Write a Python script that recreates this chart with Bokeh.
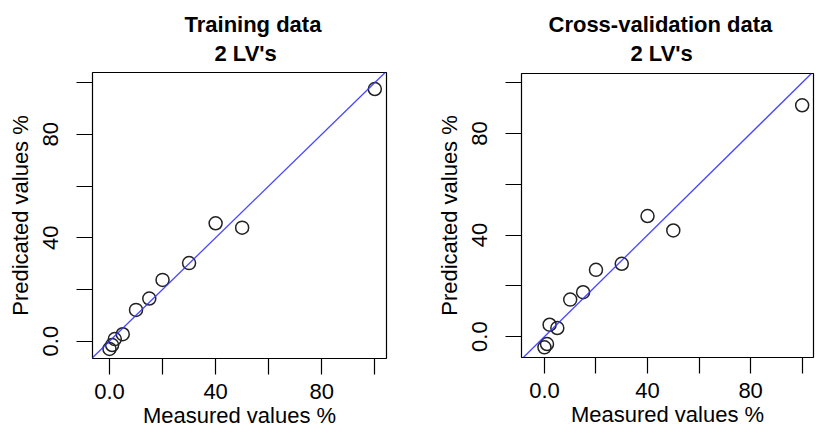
from bokeh.plotting import figure
from bokeh.layouts import row, column
from bokeh.models import Range1d, FixedTicker, Slope
from bokeh.core.properties import value
from bokeh.embed import file_html
from bokeh.resources import INLINE

measured = [0, 1, 2, 5, 10, 15, 20, 30, 40, 50, 100]
train_pred = [-3.0, -1.5, 0.8, 2.7, 12.1, 16.5, 23.7, 30.2, 45.6, 43.9, 97.5]
cv_pred = [-4.2, -2.9, 4.7, 3.4, 14.6, 17.5, 26.3, 28.7, 47.5, 41.8, 91.1]

tick_values = [0, 20, 40, 60, 80, 100]
tick_labels = {0: "0.0", 20: "", 40: "40", 60: "", 80: "80", 100: ""}

title_main = ["Training data", "Cross-validation data"]
title_sub = "2 LV's"
xlabel = "Measured values %"
ylabel = "Predicated values %"

FONT = "Liberation Sans"
FS = "22px"
W = 408
HEAD = 71


def make_header(main, xs, borders):
    # header strip holding the two bold title lines (pixel coordinates,
    # measured from the left edge of the plot frame below it)
    left, right = borders
    fw = W - left - right
    h = figure(width=W, height=HEAD, output_backend="svg", toolbar_location=None,
               x_range=Range1d(0, fw), y_range=Range1d(HEAD, 0),
               min_border_left=left, min_border_right=right,
               min_border_top=0, min_border_bottom=0,
               x_axis_type=None, y_axis_type=None)
    h.title.visible = False
    h.grid.visible = False
    h.outline_line_color = None
    h.border_fill_color = "white"
    h.text(x=xs, y=[24, 53], text=[main, title_sub],
           text_font=value(FONT), text_font_size=value(FS),
           text_font_style="bold", text_color="black",
           text_align="left", text_baseline="alphabetic")
    return h


def make_panel(pred, xr, yr, borders):
    left, right, top, bottom = borders
    p = figure(width=W, height=433 - HEAD, output_backend="svg", toolbar_location=None,
               x_range=Range1d(*xr), y_range=Range1d(*yr),
               min_border_left=left, min_border_right=right,
               min_border_top=top, min_border_bottom=bottom)
    p.title.visible = False
    p.xgrid.visible = False
    p.ygrid.visible = False
    p.outline_line_color = "black"
    p.outline_line_width = 1.2
    p.outline_line_alpha = 1
    p.background_fill_color = "white"
    p.border_fill_color = "white"
    for ax in (p.xaxis[0], p.yaxis[0]):
        ax.ticker = FixedTicker(ticks=tick_values)
        ax.major_label_overrides = tick_labels
        ax.minor_tick_line_color = None
        ax.major_tick_in = 0
        ax.major_tick_out = 16
        ax.major_tick_line_color = "black"
        ax.major_tick_line_width = 1.2
        ax.axis_line_color = None
        ax.major_label_text_font = FONT
        ax.major_label_text_font_size = FS
        ax.major_label_text_color = "black"
        ax.major_label_text_line_height = 1.0
        ax.axis_label_text_font = FONT
        ax.axis_label_text_font_size = FS
        ax.axis_label_text_font_style = "normal"
        ax.axis_label_text_color = "black"
        ax.axis_label_text_line_height = 1.0
    p.xaxis.axis_label = xlabel
    p.yaxis.axis_label = ylabel
    p.xaxis.major_label_standoff = 9
    p.xaxis.axis_label_standoff = 1
    p.yaxis.major_label_orientation = "vertical"
    p.yaxis.major_label_standoff = 18
    p.yaxis.axis_label_standoff = 8

    p.add_layout(Slope(gradient=1, y_intercept=0, line_color="#3333ff",
                       line_width=1.3, line_alpha=0.9))
    p.scatter(measured, pred, marker="circle", size=13, fill_color=None,
              line_color="#222222", line_width=1.5)
    return p


h1 = make_header(title_main[0], [92, 122], (92, 22))
p1 = make_panel(train_pred, (-6.4, 104.4), (-6.7, 103.9), (92, 22, 1, 75))
h2 = make_header(title_main[1], [27, 109], (113, 3))
p2 = make_panel(cv_pred, (-8.9, 104.4), (-8.2, 103.6), (113, 3, 2, 76))

layout = row(column(h1, p1, spacing=0), column(h2, p2, spacing=0), spacing=0)
open("out.html", "w").write(file_html(layout, INLINE))
